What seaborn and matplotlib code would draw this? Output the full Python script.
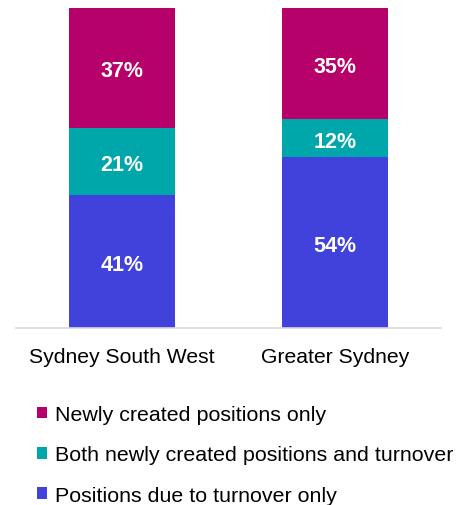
import numpy as np
import matplotlib
matplotlib.use("Agg")
import matplotlib.pyplot as plt
import seaborn as sns
from matplotlib.patches import Patch

# dados
regions = ["Sydney South West", "Greater Sydney"]
turnover_only = [41, 54]
both = [21, 12]
new_only = [37, 35]
series_names = ["Newly created positions only",
                "Both newly created positions and turnover",
                "Positions due to turnover only"]
colors = ["#B6006A", "#00A7AA", "#4141DC"]

sns.set_theme(style="white")
plt.rcParams["font.family"] = ["Liberation Sans", "DejaVu Sans"]

# normalizando para 100% (os rótulos arredondados não somam 100)
vals = np.array([turnover_only, both, new_only], dtype=float)
shares = vals / vals.sum(axis=0) * 100
cum = np.cumsum(shares, axis=0)

fig = plt.figure(figsize=(4.62, 5.06), dpi=100)
ax = fig.add_axes([16 / 462, 1 - 329 / 506, (441 - 16) / 462, 320 / 506])

# barras empilhadas: desenhando do total para baixo
for k, c in zip([2, 1, 0], colors):
    sns.barplot(x=regions, y=cum[k], color=c, width=0.5, ax=ax,
                saturation=1, linewidth=0, edgecolor="none")

# rótulos dentro das barras
for i in range(len(regions)):
    bottoms = [0, cum[0][i], cum[1][i]]
    for j, v in enumerate([turnover_only[i], both[i], new_only[i]]):
        ax.text(i, bottoms[j] + shares[j][i] / 2 - 1, f"{v}%", ha="center", va="center",
                color="white", fontsize=15.5, fontweight="bold")

ax.set_xlim(-0.5, 1.5)
ax.set_ylim(0, 100)
ax.set_yticks([])
ax.set_ylabel("")
ax.set_xlabel("")
for s in ["left", "right", "top"]:
    ax.spines[s].set_visible(False)
ax.spines["bottom"].set_color("#D9D9D9")
ax.spines["bottom"].set_linewidth(1.2)
ax.tick_params(axis="x", length=0, pad=14, labelsize=15.2, colors="black")

handles = [Patch(facecolor=c, edgecolor="none") for c in colors]
fig.legend(handles, series_names, loc="upper left", bbox_to_anchor=(37 / 462, 1 - 406 / 506),
           frameon=False, fontsize=15.4, handlelength=0.45, handleheight=0.45,
           handletextpad=0.4, labelspacing=1.0, borderaxespad=0, borderpad=0,
           labelcolor="black")

fig.savefig("out.png", dpi=100)
